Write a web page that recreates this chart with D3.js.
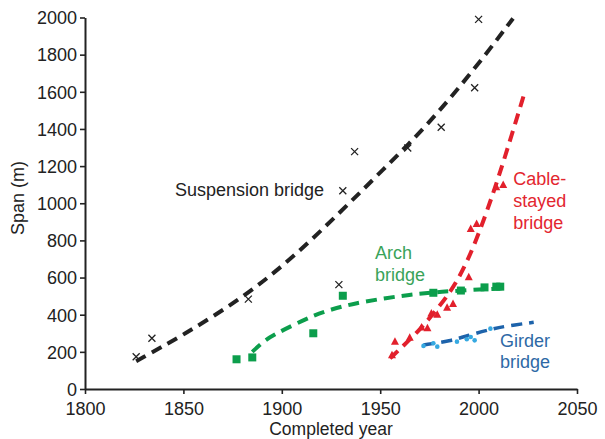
<!DOCTYPE html>
<html>
<head>
<meta charset="utf-8">
<script src="https://cdn.jsdelivr.net/npm/d3@7/dist/d3.min.js"></script>
<style>
  html, body { margin: 0; padding: 0; background: #fff; }
  svg { display: block; }
  text { font-family: "Liberation Sans", Arial, sans-serif; }
</style>
</head>
<body>
<svg id="chart" width="605" height="439"></svg>
<script>
// ---- Data ----
const xTicks = [1800, 1850, 1900, 1950, 2000, 2050];
const yTicks = [0, 200, 400, 600, 800, 1000, 1200, 1400, 1600, 1800, 2000];

// Suspension bridges (x markers)
const suspYears = [1826, 1834, 1883, 1929, 1931, 1937, 1964, 1981, 1998, 2000];
const suspSpans = [174, 273, 484, 562, 1067, 1278, 1297, 1409, 1622, 1990];
const suspTrendYears = [1826, 1850, 1880, 1905, 1930, 1953, 1966, 1980, 2000, 2017.5];
const suspTrendSpans = [150, 290, 490, 700, 955, 1197, 1335, 1495, 1750, 1995];

// Arch bridges (squares)
const archYears = [1877, 1885, 1916, 1931, 1977, 1991, 2003, 2009, 2011];
const archSpans = [160, 170, 300, 502, 518, 530, 547, 551, 551];
const archTrendYears = [1885, 1890.5, 1896, 1906, 1916, 1925, 1936, 1960, 1979, 2012.5];
const archTrendSpans = [200, 255, 292, 345, 395, 428, 460, 502, 524, 542];

// Cable-stayed bridges (triangles)
const cableYears = [1956, 1957.5, 1965, 1971, 1974, 1976, 1979, 1984, 1987, 1995, 1996, 1999, 2009, 2012.5];
const cableSpans = [182, 255, 276, 331, 327, 407, 400, 438, 458, 601, 861, 888, 1086, 1098];
const cableTrendYears = [1955, 1962, 1970, 1977, 1989, 1999, 2008, 2014, 2023.5];
const cableTrendSpans = [165, 235, 318, 405, 565, 800, 1071, 1269, 1600];

// Girder bridges (dots)
const girderYears = [1972, 1977, 1979, 1989, 1994, 1996, 1998, 2006];
const girderSpans = [232, 246, 228, 255, 268, 280, 262, 325];
const girderTrendYears = [1972, 1985.5, 1995.5, 2006, 2014, 2028];
const girderTrendSpans = [237, 258, 291, 321, 339, 359];

// Labels (anchor = first line baseline)
const labels = [
  { lines: ["Suspension bridge"], year: 1845.7, span: 1039, color: "#222222" },
  { lines: ["Arch", "bridge"], year: 1947.4, span: 700, color: "#3aa35a" },
  { lines: ["Cable-", "stayed", "bridge"], year: 2017.6, span: 1098, color: "#e3262f" },
  { lines: ["Girder", "bridge"], year: 2010.9, span: 228, color: "#2e69a6" }
];

// ---- Layout ----
const svg = d3.select("#chart");
const x = d3.scaleLinear().domain([1800, 2050]).range([85, 577]);
const y = d3.scaleLinear().domain([0, 2000]).range([389, 17.5]);
const fontSize = 18;

// Axes
const xAxis = d3.axisBottom(x).tickValues(xTicks).tickFormat(d3.format("d")).tickSize(5).tickSizeOuter(0);
const yAxis = d3.axisLeft(y).tickValues(yTicks).tickFormat(d3.format("d")).tickSize(5).tickSizeOuter(0);

const gx = svg.append("g").attr("transform", "translate(0,389)").call(xAxis);
const gy = svg.append("g").attr("transform", "translate(85,0)").call(yAxis);
[gx, gy].forEach(g => {
  g.select(".domain").attr("stroke", "#222").attr("stroke-width", 2);
  g.selectAll(".tick line").attr("stroke", "#222").attr("stroke-width", 1.6);
  g.selectAll(".tick text").attr("fill", "#222").style("font-size", fontSize + "px")
    .style("font-family", "'Liberation Sans', Arial, sans-serif");
});
gx.selectAll(".tick text").attr("dy", "0").attr("y", 26);
gy.selectAll(".tick text").attr("x", -8).attr("dy", "0.35em");

// Axis titles
svg.append("text").attr("x", 331).attr("y", 435.3).attr("text-anchor", "middle")
  .attr("fill", "#222").style("font-size", "17.5px").text("Completed year");
svg.append("text").attr("transform", "translate(24,198) rotate(-90)").attr("text-anchor", "middle")
  .attr("fill", "#222").style("font-size", fontSize + "px").text("Span (m)");

// ---- Marks ----
const line = d3.line().x(d => x(d[0])).y(d => y(d[1])).curve(d3.curveBasis);
const zip = (a, b) => a.map((v, i) => [v, b[i]]);

function trend(years, spans, color, width) {
  svg.append("path").datum(zip(years, spans)).attr("d", line)
    .attr("fill", "none").attr("stroke", color).attr("stroke-width", width)
    .attr("stroke-dasharray", "11,7");
}

// Arch
const archColor = "#0c9e4c";
svg.append("g").selectAll("rect").data(zip(archYears, archSpans)).join("rect")
  .attr("x", d => x(d[0]) - 4).attr("y", d => y(d[1]) - 4)
  .attr("width", 8).attr("height", 8).attr("fill", archColor);
trend(archTrendYears, archTrendSpans, archColor, 4);

// Suspension
svg.append("g").selectAll("path").data(zip(suspYears, suspSpans)).join("path")
  .attr("d", d => {
    const cx = x(d[0]), cy = y(d[1]), s = 3.5;
    return `M${cx - s},${cy - s}L${cx + s},${cy + s}M${cx - s},${cy + s}L${cx + s},${cy - s}`;
  })
  .attr("stroke", "#222").attr("stroke-width", 1.3).attr("fill", "none");
trend(suspTrendYears, suspTrendSpans, "#222222", 4);

// Girder
const girderColor = "#1d63ab";
trend(girderTrendYears, girderTrendSpans, girderColor, 3.5);
svg.append("g").selectAll("circle").data(zip(girderYears, girderSpans)).join("circle")
  .attr("cx", d => x(d[0])).attr("cy", d => y(d[1])).attr("r", 2.3)
  .attr("fill", "#36a9e1");

// Cable-stayed
const cableColor = "#e2202c";
svg.append("g").selectAll("path").data(zip(cableYears, cableSpans)).join("path")
  .attr("d", d => {
    const cx = x(d[0]), cy = y(d[1]);
    return `M${cx},${cy - 4.5}L${cx + 4},${cy + 3}L${cx - 4},${cy + 3}Z`;
  })
  .attr("fill", cableColor);
trend(cableTrendYears, cableTrendSpans, cableColor, 4);

// Labels
labels.forEach(l => {
  const t = svg.append("text").attr("fill", l.color).style("font-size", fontSize + "px");
  l.lines.forEach((s, i) => {
    t.append("tspan").attr("x", x(l.year)).attr("y", y(l.span) + i * 21.8).text(s);
  });
});
</script>
</body>
</html>
